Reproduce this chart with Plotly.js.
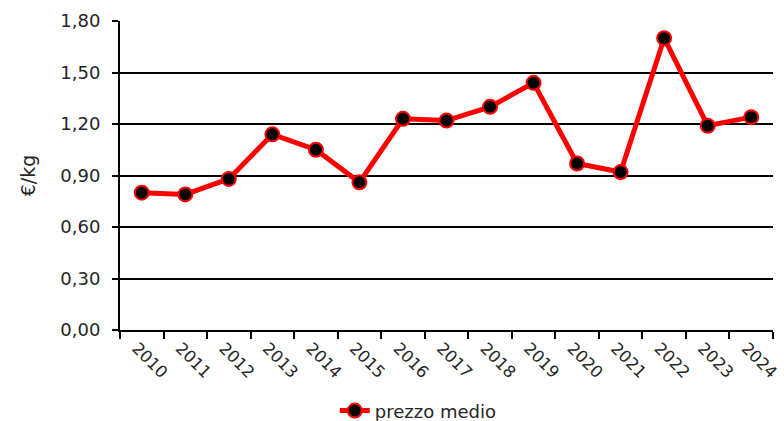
<!DOCTYPE html>
<html>
<head>
<meta charset="utf-8">
<script src="https://cdn.plot.ly/plotly-3.0.1.min.js"></script>
<style>html,body{margin:0;padding:0;background:#fff;}#chart{width:784px;height:421px;}</style>
</head>
<body>
<div id="chart"></div>
<script>
const years = ['2010','2011','2012','2013','2014','2015','2016','2017','2018','2019','2020','2021','2022','2023','2024'];
const prezzoMedio = [0.80, 0.79, 0.88, 1.14, 1.05, 0.86, 1.23, 1.22, 1.30, 1.44, 0.97, 0.92, 1.70, 1.19, 1.24];
const seriesName = 'prezzo medio';
const yTitle = '€/kg';

const font = {family: 'DejaVu Sans, sans-serif', size: 18, color: '#262626'};
const xFont = {family: 'DejaVu Sans, sans-serif', size: 16.5, color: '#262626'};

Plotly.newPlot('chart', [{
  x: years,
  y: prezzoMedio,
  type: 'scatter',
  mode: 'lines+markers',
  name: seriesName,
  line: {color: '#ff0000', width: 5},
  marker: {color: '#000000', size: 14, line: {color: '#ff0000', width: 2}}
}], {
  width: 784, height: 421,
  margin: {l: 120, r: 11, t: 21, b: 91},
  paper_bgcolor: '#ffffff',
  plot_bgcolor: '#ffffff',
  font: font,
  separators: ',.',
  showlegend: true,
  legend: {
    orientation: 'h',
    xref: 'container', yref: 'container',
    x: 0.427, xanchor: 'left', y: 0.024, yanchor: 'middle',
    font: font, bgcolor: 'rgba(0,0,0,0)'
  },
  xaxis: {
    type: 'category',
    automargin: false,
    range: [-0.5, years.length - 0.5],
    tickson: 'boundaries',
    ticks: 'outside', ticklen: 7, tickwidth: 2, tickcolor: '#000',
    showline: true, linecolor: '#000', linewidth: 2,
    showgrid: false, zeroline: false,
    tickangle: 45,
    ticklabelshift: -5,
    tickfont: xFont,
    fixedrange: true
  },
  yaxis: {
    automargin: false,
    range: [0, 1.8], dtick: 0.3, tick0: 0,
    tickformat: '.2f',
    ticks: 'outside', ticklen: 6, tickwidth: 2, tickcolor: '#000',
    ticklabelstandoff: 8,
    showline: true, linecolor: '#000', linewidth: 2,
    showgrid: true, gridcolor: '#000', gridwidth: 2,
    zeroline: false,
    tickfont: font,
    title: {text: yTitle, font: {family: 'DejaVu Sans, sans-serif', size: 19, color: '#262626'}, standoff: 20},
    fixedrange: true
  }
}, {displayModeBar: false, staticPlot: true});
</script>
</body>
</html>
